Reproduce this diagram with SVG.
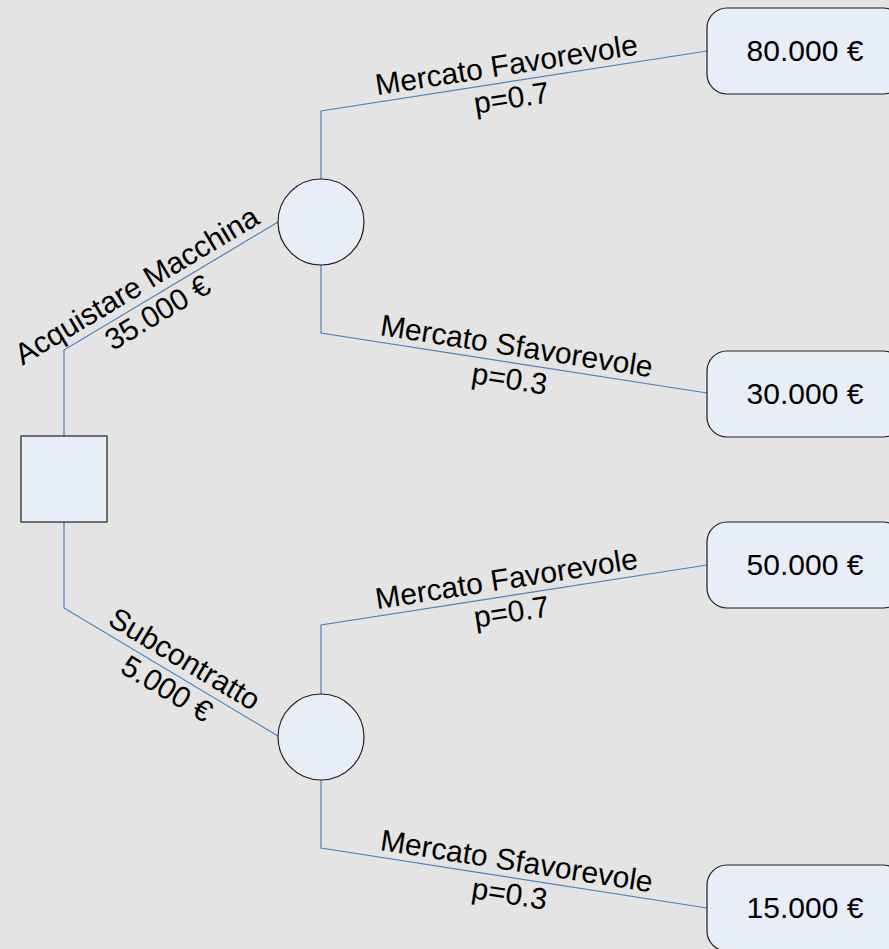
<svg xmlns="http://www.w3.org/2000/svg" width="889" height="949" viewBox="0 0 889 949">
  <style>
    .bg { fill: #e4e4e4; }
    .node { fill: #e8eef8; stroke: #1e1e1e; stroke-width: 1.2; }
    .edge { fill: none; stroke: #4f81bd; stroke-width: 1.2; }
    text { font-family: "Liberation Sans", Arial, sans-serif; font-size: 30px; fill: #000; text-anchor: middle; }
  </style>

  <rect class="bg" x="0" y="0" width="889" height="949"/>

  <!-- connectors -->
  <g id="connectors">
    <polyline class="edge" points="64,436 64,350 278,222"/>
    <polyline class="edge" points="64,522 64,608 278,736"/>
    <polyline class="edge" points="321,179 321,111 707,51"/>
    <polyline class="edge" points="321,265 321,333 707,393"/>
    <polyline class="edge" points="321,694 321,625 707,565"/>
    <polyline class="edge" points="321,780 321,848 707,908"/>
  </g>

  <!-- branch labels -->
  <g id="labels">
    <g transform="translate(146,301) rotate(-30.9)">
      <text x="0" y="-8">Acquistare Macchina</text>
      <text x="4" y="26">35.000 €</text>
    </g>
    <g transform="translate(175.3,674.6) rotate(30.9)">
      <text x="0" y="-8">Subcontratto</text>
      <text x="0" y="26.5">5.000 €</text>
    </g>
    <g transform="translate(509,81.8) rotate(-8.84)">
      <text x="0" y="-7">Mercato Favorevole</text>
      <text x="0" y="26.5">p=0.7</text>
    </g>
    <g transform="translate(514,363) rotate(8.84)">
      <text x="0" y="-7">Mercato Sfavorevole</text>
      <text x="-2" y="26.5">p=0.3</text>
    </g>
    <g transform="translate(509,595.8) rotate(-8.84)">
      <text x="0" y="-7">Mercato Favorevole</text>
      <text x="0" y="26.5">p=0.7</text>
    </g>
    <g transform="translate(514,878) rotate(8.84)">
      <text x="0" y="-7">Mercato Sfavorevole</text>
      <text x="-2" y="26.5">p=0.3</text>
    </g>
  </g>

  <!-- decision node -->
  <g id="decision">
    <rect class="node" x="21" y="436" width="86" height="86"/>
  </g>

  <!-- chance nodes -->
  <g id="chance-buy">
    <circle class="node" cx="321" cy="222" r="43"/>
  </g>
  <g id="chance-sub">
    <circle class="node" cx="321" cy="737" r="43"/>
  </g>

  <!-- outcomes -->
  <g id="outcome-80000">
    <rect class="node" x="707" y="8" width="196" height="86" rx="20" ry="20"/>
    <text x="805" y="61">80.000 €</text>
  </g>
  <g id="outcome-30000">
    <rect class="node" x="707" y="351" width="196" height="86" rx="20" ry="20"/>
    <text x="805" y="404">30.000 €</text>
  </g>
  <g id="outcome-50000">
    <rect class="node" x="707" y="522" width="196" height="86" rx="20" ry="20"/>
    <text x="805" y="575">50.000 €</text>
  </g>
  <g id="outcome-15000">
    <rect class="node" x="707" y="865" width="196" height="86" rx="20" ry="20"/>
    <text x="805" y="918">15.000 €</text>
  </g>
</svg>
